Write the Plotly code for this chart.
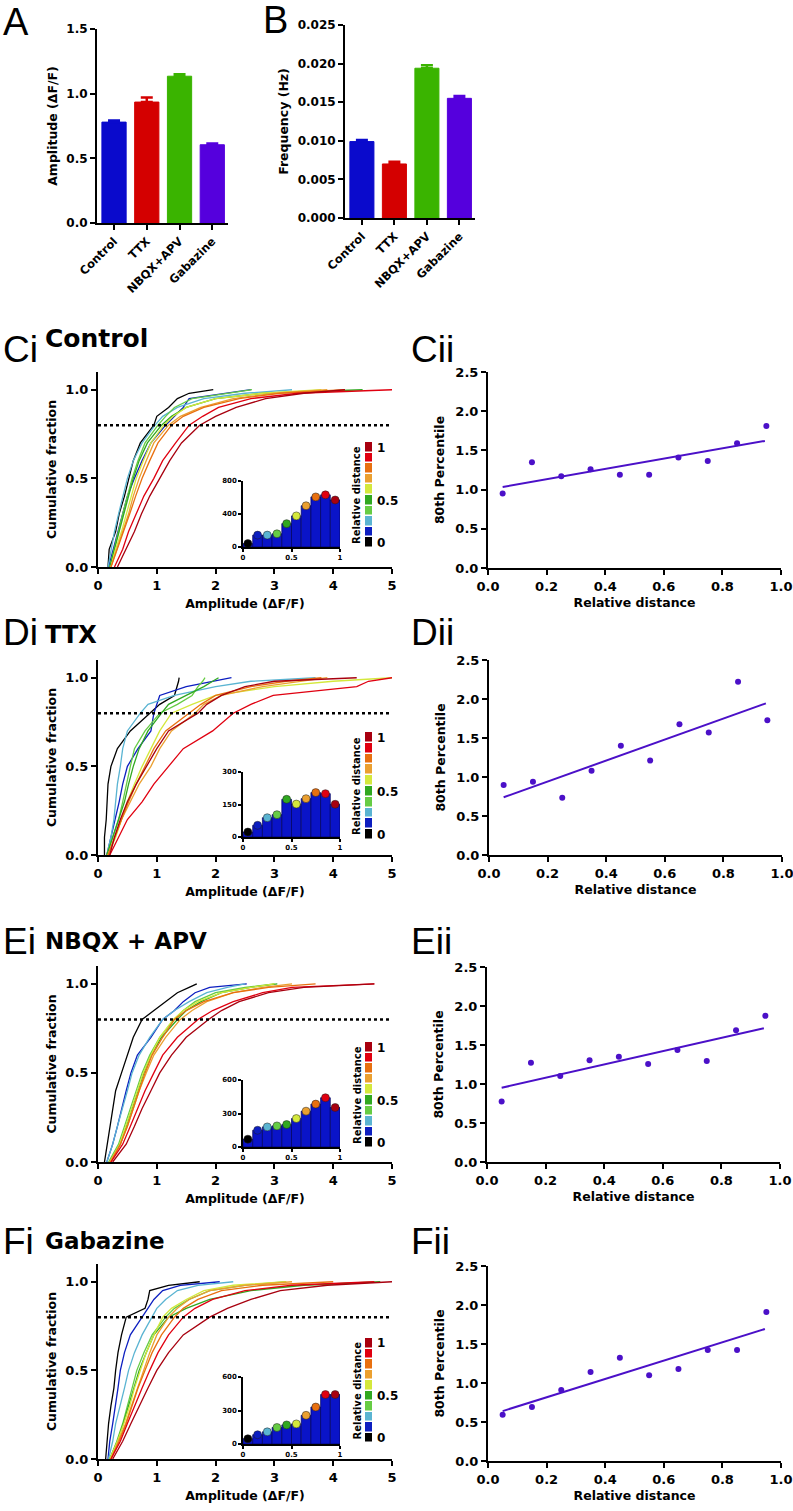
import numpy as np
import plotly.graph_objects as go

W, H = 793, 1511
FONT = "DejaVu Sans"
LETTER_FONT = "Liberation Sans"

# ---------------- data ----------------
conditions = ["Control", "TTX", "NBQX+APV", "Gabazine"]
condition_colors = ["#0A0ACC", "#D40000", "#3AB400", "#5500DD"]
amplitude_mean = [0.78, 0.935, 1.135, 0.605]
amplitude_sem = [0.012, 0.035, 0.015, 0.010]
frequency_mean = [0.0099, 0.0070, 0.0194, 0.0155]
frequency_sem = [0.0002, 0.0003, 0.0004, 0.0003]

rel_distance = [0.05, 0.15, 0.25, 0.35, 0.45, 0.55, 0.65, 0.75, 0.85, 0.95]
distance_colors = ["#000000", "#0C1EC0", "#5AB4D2", "#66CC44", "#30A820",
                   "#D4E83C", "#EBA030", "#E87010", "#E00010", "#A8000F"]
cum_levels = [0, .1, .2, .3, .4, .5, .6, .7, .8, .85, .9, .95, .98, 1.0]

# amplitude at each cumulative level, one list per distance bin
control_cdf = [
    [0.17, 0.19, 0.30, 0.36, 0.45, 0.52, 0.60, 0.72, 0.95, 1.00, 1.20, 1.35, 1.55, 1.96],
    [0.18, 0.26, 0.35, 0.42, 0.50, 0.62, 0.75, 0.90, 1.15, 1.30, 1.45, 1.55, 2.20, 2.60],
    [0.17, 0.22, 0.28, 0.35, 0.42, 0.50, 0.60, 0.75, 0.97, 1.10, 1.35, 1.80, 2.50, 3.30],
    [0.20, 0.27, 0.35, 0.42, 0.50, 0.58, 0.68, 0.80, 1.02, 1.15, 1.30, 1.60, 2.20, 2.62],
    [0.20, 0.28, 0.37, 0.45, 0.52, 0.60, 0.70, 0.84, 1.08, 1.25, 1.50, 2.00, 2.80, 4.50],
    [0.22, 0.30, 0.40, 0.48, 0.56, 0.65, 0.77, 0.90, 1.12, 1.28, 1.50, 2.00, 2.80, 3.80],
    [0.22, 0.32, 0.42, 0.52, 0.60, 0.70, 0.82, 0.95, 1.20, 1.40, 1.75, 2.30, 3.00, 3.90],
    [0.22, 0.33, 0.43, 0.54, 0.64, 0.75, 0.88, 1.02, 1.25, 1.45, 1.80, 2.40, 3.10, 4.20],
    [0.28, 0.42, 0.52, 0.65, 0.78, 0.95, 1.10, 1.32, 1.55, 1.78, 2.05, 2.60, 3.40, 5.00],
    [0.33, 0.48, 0.62, 0.74, 0.88, 1.05, 1.22, 1.42, 1.73, 2.00, 2.35, 2.85, 3.50, 4.20],
]
ttx_cdf = [
    [0.11, 0.11, 0.14, 0.15, 0.17, 0.22, 0.33, 0.55, 0.88, 1.05, 1.30, 1.35, 1.37, 1.38],
    [0.15, 0.22, 0.30, 0.36, 0.42, 0.50, 0.68, 0.90, 0.95, 1.00, 1.05, 1.50, 2.00, 2.27],
    [0.15, 0.22, 0.27, 0.30, 0.33, 0.38, 0.42, 0.50, 0.72, 0.85, 1.30, 2.00, 2.60, 3.70],
    [0.15, 0.25, 0.35, 0.42, 0.48, 0.55, 0.62, 0.80, 1.05, 1.35, 1.60, 1.70, 1.78, 1.82],
    [0.15, 0.25, 0.35, 0.45, 0.52, 0.60, 0.70, 0.85, 1.08, 1.20, 1.50, 1.80, 1.95, 2.05],
    [0.17, 0.30, 0.40, 0.50, 0.62, 0.75, 0.90, 1.05, 1.25, 1.60, 2.00, 3.00, 4.00, 5.00],
    [0.17, 0.28, 0.40, 0.55, 0.70, 0.90, 1.05, 1.25, 1.65, 1.80, 2.10, 2.80, 3.50, 3.90],
    [0.17, 0.28, 0.40, 0.52, 0.65, 0.80, 0.95, 1.15, 1.55, 1.75, 2.00, 2.60, 3.20, 3.80],
    [0.20, 0.35, 0.50, 0.75, 0.95, 1.20, 1.45, 1.95, 2.30, 2.60, 2.98, 4.40, 4.60, 5.00],
    [0.20, 0.28, 0.38, 0.50, 0.65, 0.82, 1.00, 1.20, 1.70, 1.85, 2.10, 2.50, 3.00, 4.40],
]
nbqx_cdf = [
    [0.11, 0.16, 0.20, 0.25, 0.30, 0.40, 0.50, 0.60, 0.75, 0.95, 1.15, 1.35, 1.55, 1.68],
    [0.15, 0.25, 0.33, 0.40, 0.48, 0.56, 0.67, 0.90, 1.10, 1.30, 1.45, 1.65, 1.90, 2.53],
    [0.15, 0.25, 0.33, 0.42, 0.50, 0.58, 0.70, 0.88, 1.10, 1.30, 1.55, 1.85, 2.20, 2.50],
    [0.18, 0.35, 0.45, 0.55, 0.65, 0.75, 0.88, 1.05, 1.30, 1.45, 1.65, 2.00, 2.50, 3.00],
    [0.20, 0.38, 0.48, 0.58, 0.68, 0.78, 0.90, 1.08, 1.35, 1.50, 1.75, 2.10, 2.60, 3.05],
    [0.20, 0.37, 0.47, 0.57, 0.67, 0.77, 0.90, 1.05, 1.28, 1.45, 1.70, 2.10, 2.60, 3.00],
    [0.20, 0.38, 0.50, 0.60, 0.70, 0.82, 0.95, 1.15, 1.40, 1.60, 1.85, 2.30, 2.80, 3.30],
    [0.22, 0.38, 0.50, 0.60, 0.70, 0.80, 0.92, 1.10, 1.30, 1.50, 1.80, 2.30, 2.90, 3.70],
    [0.22, 0.42, 0.55, 0.68, 0.80, 0.95, 1.10, 1.35, 1.70, 1.95, 2.30, 2.80, 3.30, 4.70],
    [0.25, 0.48, 0.62, 0.75, 0.90, 1.05, 1.25, 1.50, 1.88, 2.10, 2.40, 2.90, 3.50, 4.70],
]
gabazine_cdf = [
    [0.13, 0.15, 0.18, 0.22, 0.27, 0.30, 0.34, 0.40, 0.48, 0.80, 0.85, 0.88, 1.20, 1.73],
    [0.17, 0.20, 0.25, 0.30, 0.34, 0.38, 0.45, 0.55, 0.75, 0.85, 0.95, 1.10, 1.40, 2.07],
    [0.18, 0.25, 0.30, 0.38, 0.45, 0.52, 0.62, 0.75, 0.92, 1.00, 1.15, 1.35, 1.70, 2.30],
    [0.20, 0.32, 0.42, 0.50, 0.58, 0.66, 0.78, 0.92, 1.15, 1.30, 1.55, 1.90, 2.50, 3.20],
    [0.20, 0.33, 0.43, 0.52, 0.60, 0.70, 0.82, 0.95, 1.20, 1.50, 1.90, 2.60, 3.50, 4.80],
    [0.20, 0.33, 0.44, 0.54, 0.62, 0.72, 0.82, 0.95, 1.10, 1.25, 1.50, 1.80, 2.30, 3.20],
    [0.22, 0.35, 0.47, 0.57, 0.67, 0.77, 0.88, 1.00, 1.20, 1.35, 1.55, 1.90, 2.50, 3.30],
    [0.22, 0.36, 0.48, 0.58, 0.68, 0.80, 0.92, 1.08, 1.30, 1.45, 1.70, 2.10, 2.80, 4.00],
    [0.22, 0.38, 0.50, 0.62, 0.75, 0.88, 1.02, 1.20, 1.45, 1.65, 1.95, 2.50, 3.30, 4.70],
    [0.25, 0.42, 0.56, 0.70, 0.85, 1.00, 1.20, 1.45, 1.90, 2.20, 2.60, 3.10, 3.90, 5.00],
]

# inset histograms: events per distance bin
control_counts = [41, 144, 144, 160, 283, 377, 500, 607, 632, 570]
ttx_counts = [23, 54, 89, 103, 174, 152, 177, 205, 200, 151]
nbqx_counts = [70, 150, 180, 189, 201, 255, 321, 384, 441, 354]
gabazine_counts = [47, 83, 109, 148, 171, 180, 257, 331, 443, 443]
inset_ticks = [[0, 400, 800], [0, 150, 300], [0, 300, 600], [0, 300, 600]]

# 80th percentile vs relative distance
control_p80 = [0.95, 1.35, 1.17, 1.26, 1.19, 1.19, 1.41, 1.365, 1.59, 1.81]
ttx_p80 = [0.897, 0.94, 0.735, 1.08, 1.40, 1.21, 1.675, 1.57, 2.22, 1.726]
nbqx_p80 = [0.775, 1.273, 1.103, 1.303, 1.35, 1.256, 1.435, 1.295, 1.69, 1.874]
gabazine_p80 = [0.594, 0.692, 0.91, 1.141, 1.325, 1.098, 1.179, 1.423, 1.423, 1.91]

row_titles = ["Control", "TTX", "NBQX + APV", "Gabazine"]
row_title_sizes = [25, 24, 23, 23]
row_letters = ["C", "D", "E", "F"]
all_cdf = [control_cdf, ttx_cdf, nbqx_cdf, gabazine_cdf]
all_counts = [control_counts, ttx_counts, nbqx_counts, gabazine_counts]
all_p80 = [control_p80, ttx_p80, nbqx_p80, gabazine_p80]

# ---------------- layout helpers ----------------
fig = go.Figure()
layout = {}
annotations = []
shapes = []
count = [0]


def px_x(p):
    return p / W


def px_y(p):
    return 1 - p / H


def new_axes(xpx, ypx, xopts, yopts):
    count[0] += 1
    n = count[0]
    s = "" if n == 1 else str(n)
    xopts = dict(xopts, automargin=False)
    yopts = dict(yopts, automargin=False)
    layout["xaxis" + s] = dict(domain=[px_x(xpx[0]), px_x(xpx[1])], anchor="y" + s, **xopts)
    layout["yaxis" + s] = dict(domain=[px_y(ypx[1]), px_y(ypx[0])], anchor="x" + s, **yopts)
    return "x" + s, "y" + s


def f(size, bold=True, family=FONT):
    d = dict(family=family, size=size, color="black")
    if bold:
        d["weight"] = "bold"
    return d


def axstyle(size=13, lw=2, tl=5, **kw):
    d = dict(showline=True, linecolor="black", linewidth=lw, ticks="outside",
             ticklen=tl, tickwidth=lw, tickcolor="black", showgrid=False,
             zeroline=False, tickfont=f(size), fixedrange=True,
             ticklabeloverflow="allow")
    d.update(kw)
    return d


def ann(text, x, y, size, bold=False, xanchor="left", yanchor="middle", angle=0, family=FONT):
    annotations.append(dict(text=text, x=px_x(x), y=px_y(y), xref="paper", yref="paper",
                            showarrow=False, font=f(size, bold, family), xanchor=xanchor,
                            yanchor=yanchor, textangle=angle))


# ---------------- panel A / B ----------------
def bar_panel(xpx, ypx, means, sems, yrange, dtick, fmt, ytitle):
    xa, ya = new_axes(
        xpx, ypx,
        axstyle(11.5, range=[-0.52, 3.48], tickangle=-45, type="category",
                categoryorder="array", categoryarray=conditions),
        axstyle(12, range=yrange, dtick=dtick, tickformat=fmt,
                title=dict(text=ytitle, font=f(12.5), standoff=6)))
    for c, m, e, col in zip(conditions, means, sems, condition_colors):
        fig.add_trace(go.Bar(x=[c], y=[m], width=0.74, marker=dict(color=col, line=dict(color=col, width=1)),
                             error_y=dict(type="data", array=[e], arrayminus=[0], symmetric=False,
                                          color=col, thickness=2.5, width=6),
                             xaxis=xa, yaxis=ya))


bar_panel((97, 228), (29, 223), amplitude_mean, amplitude_sem, [0, 1.5], 0.5, ".1f", "Amplitude (ΔF/F)")
bar_panel((345, 475), (25, 218), frequency_mean, frequency_sem, [0, 0.025], 0.005, ".3f", "Frequency (Hz)")
ann("A", 1, 22, 38, family=LETTER_FONT)
ann("B", 261, 20, 38, family=LETTER_FONT)

# ---------------- rows C-F ----------------
rows = [
    dict(main=(372, 567), inset=(481, 547), cbar=(442, 548), sc=(372, 568), scx=(488, 781),
         lab=350, tit=339),
    dict(main=(660, 855), inset=(772, 837), cbar=(732, 840), sc=(660, 855), scx=(489, 782),
         lab=632, tit=635),
    dict(main=(966, 1162), inset=(1080, 1147), cbar=(1042, 1148), sc=(967, 1162), scx=(487, 780),
         lab=941, tit=941),
    dict(main=(1264, 1459), inset=(1377, 1444), cbar=(1338, 1443), sc=(1266, 1461), scx=(488, 781),
         lab=1241, tit=1241),
]

for r, geo in enumerate(rows):
    # main cumulative plot
    xa, ya = new_axes(
        (98, 392), geo["main"],
        axstyle(13, range=[0, 5], dtick=1,
                title=dict(text="Amplitude (ΔF/F)", font=f(12.5), standoff=8)),
        axstyle(13, range=[0, 1.1], tickvals=[0, 0.5, 1.0], tickformat=".1f",
                title=dict(text="Cumulative fraction", font=f(12.5), standoff=6)))
    for b in range(10):
        fig.add_trace(go.Scatter(x=all_cdf[r][b], y=cum_levels, mode="lines",
                                 line=dict(color=distance_colors[b], width=1.3),
                                 xaxis=xa, yaxis=ya))
    shapes.append(dict(type="line", xref=xa + " domain", yref=ya, x0=0, x1=1, y0=0.8, y1=0.8,
                       line=dict(color="black", width=2.5, dash="dot")))

    # inset histogram
    tk = inset_ticks[r]
    xa, ya = new_axes(
        (243, 340), geo["inset"],
        axstyle(7, lw=1.5, tl=3, range=[0, 1], tickvals=[0, 0.5, 1], ticktext=["0", "0.5", "1"]),
        axstyle(7, lw=1.5, tl=3, range=[0, tk[2]], tickvals=tk))
    fig.add_trace(go.Bar(x=rel_distance, y=all_counts[r], width=0.1,
                         marker=dict(color="#0A14C8", line=dict(color="#00005A", width=0.7)),
                         xaxis=xa, yaxis=ya))
    fig.add_trace(go.Scatter(x=rel_distance, y=all_counts[r], mode="markers",
                             marker=dict(color=distance_colors, size=8,
                                         line=dict(color="#202020", width=0.5)),
                             cliponaxis=False, xaxis=xa, yaxis=ya))

    # colour key
    xa, ya = new_axes(
        (365, 372), geo["cbar"],
        dict(visible=False, range=[-0.5, 0.5], fixedrange=True),
        dict(range=[-0.5, 9.5], side="right", showline=False, ticks="", showgrid=False,
             zeroline=False, tickvals=[0, 4, 9], ticktext=["0", "0.5", "1"],
             tickfont=f(12), ticklabelstandoff=4, fixedrange=True))
    fig.add_trace(go.Heatmap(z=[[b] for b in range(10)], x=[0], y=list(range(10)),
                             zmin=0, zmax=9, showscale=False, ygap=1.5,
                             colorscale=[[b / 9, distance_colors[b]] for b in range(10)],
                             xaxis=xa, yaxis=ya))
    ann("Relative distance", 357, (geo["cbar"][0] + geo["cbar"][1]) / 2, 10, True,
        xanchor="center", angle=-90)

    # 80th percentile scatter + fit
    xa, ya = new_axes(
        geo["scx"], geo["sc"],
        axstyle(13, range=[0, 1], dtick=0.2, tickformat=".1f",
                title=dict(text="Relative distance", font=f(12.5), standoff=6)),
        axstyle(13, range=[0, 2.5], dtick=0.5, tickformat=".1f",
                title=dict(text="80th Percentile", font=f(12.5), standoff=8)))
    p80 = all_p80[r]
    slope, icpt = np.polyfit(rel_distance, p80, 1)
    fx = np.array([rel_distance[0], rel_distance[-1] - 0.005])
    fig.add_trace(go.Scatter(x=fx, y=slope * fx + icpt, mode="lines",
                             line=dict(color="#4B10C8", width=2), xaxis=xa, yaxis=ya))
    fig.add_trace(go.Scatter(x=rel_distance, y=p80, mode="markers",
                             marker=dict(color="#4B10C8", size=6), cliponaxis=False,
                             xaxis=xa, yaxis=ya))

    L = row_letters[r]
    ann(L + "i", 1, geo["lab"], 37, family=LETTER_FONT)
    ann(row_titles[r], 43, geo["tit"], row_title_sizes[r], True)
    ann(L + "ii", 409, geo["lab"], 37, family=LETTER_FONT)

layout.update(dict(width=W, height=H, margin=dict(l=0, r=0, t=0, b=0, autoexpand=False),
                   paper_bgcolor="white", plot_bgcolor="white", showlegend=False,
                   barmode="overlay", annotations=annotations, shapes=shapes,
                   font=dict(family=FONT, color="black")))
fig.update_layout(**layout)
# the page's default 8px body margin would push the 793x1511 figure off the window
fig.write_html("out.html", config={"displayModeBar": False},
               post_script="document.body.style.margin='0px';")
